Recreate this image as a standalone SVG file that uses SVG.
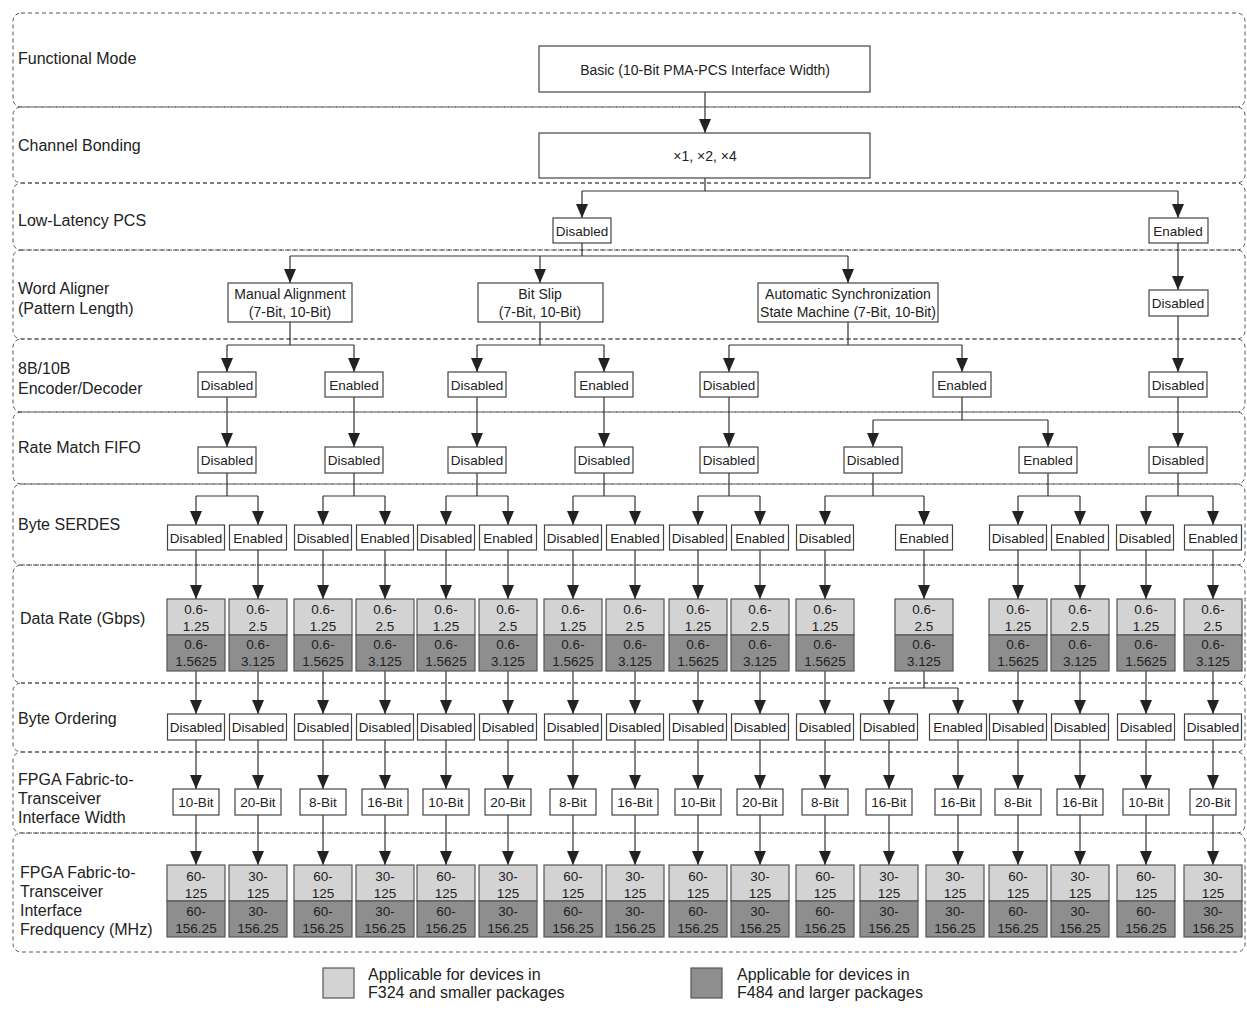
<svg xmlns="http://www.w3.org/2000/svg" width="1247" height="1013" viewBox="0 0 1247 1013">
<defs>
<style>
.row{fill:none;stroke:#555;stroke-width:1;stroke-dasharray:4 3}
.lbl{font-family:"Liberation Sans",Arial,sans-serif;font-size:16px;fill:#222;dominant-baseline:central}
.box{fill:#fff;stroke:#444;stroke-width:1.2}
.lt{fill:#d3d3d3;stroke:#555;stroke-width:1.2}
.dk{fill:#8e8e8e;stroke:#555;stroke-width:1.2}
.t{font-family:"Liberation Sans",Arial,sans-serif;font-size:13.5px;fill:#222;text-anchor:middle;dominant-baseline:central}
.s{font-size:14px}
.c{fill:none;stroke:#333;stroke-width:1.2}
.a{marker-end:url(#ah)}
</style>
<marker id="ah" markerUnits="userSpaceOnUse" viewBox="0 0 14 12" refX="14" refY="6" markerWidth="14" markerHeight="12" orient="auto"><path d="M0,0L14,6L0,12z" fill="#222"/></marker>
</defs>
<rect width="1247" height="1013" fill="#fff"/>

<g id="rows">
<g id="row-functional"><rect class="row" x="13" y="13" width="1232" height="94" rx="8"/><text class="lbl" x="18" y="58">Functional Mode</text></g>
<g id="row-bonding"><rect class="row" x="13" y="107" width="1232" height="76" rx="8"/><text class="lbl" x="18" y="145">Channel Bonding</text></g>
<g id="row-llpcs"><rect class="row" x="13" y="183" width="1232" height="67" rx="8"/><text class="lbl" x="18" y="220">Low-Latency PCS</text></g>
<g id="row-wa"><rect class="row" x="13" y="250" width="1232" height="89" rx="8"/><text class="lbl" x="18" y="288">Word Aligner</text><text class="lbl" x="18" y="308">(Pattern Length)</text></g>
<g id="row-8b10b"><rect class="row" x="13" y="339" width="1232" height="73" rx="8"/><text class="lbl" x="18" y="368">8B/10B</text><text class="lbl" x="18" y="388">Encoder/Decoder</text></g>
<g id="row-rm"><rect class="row" x="13" y="412" width="1232" height="72" rx="8"/><text class="lbl" x="18" y="447">Rate Match FIFO</text></g>
<g id="row-serdes"><rect class="row" x="13" y="484" width="1232" height="81" rx="8"/><text class="lbl" x="18" y="524">Byte SERDES</text></g>
<g id="row-dr"><rect class="row" x="13" y="565" width="1232" height="118" rx="8"/><text class="lbl" x="20" y="618">Data Rate (Gbps)</text></g>
<g id="row-bo"><rect class="row" x="13" y="683" width="1232" height="69" rx="8"/><text class="lbl" x="18" y="718">Byte Ordering</text></g>
<g id="row-width"><rect class="row" x="13" y="752" width="1232" height="81" rx="8"/><text class="lbl" x="18" y="779">FPGA Fabric-to-</text><text class="lbl" x="18" y="798">Transceiver</text><text class="lbl" x="18" y="817">Interface Width</text></g>
<g id="row-freq"><rect class="row" x="13" y="833" width="1232" height="119" rx="8"/><text class="lbl" x="20" y="872">FPGA Fabric-to-</text><text class="lbl" x="20" y="891">Transceiver</text><text class="lbl" x="20" y="910">Interface</text><text class="lbl" x="20" y="929">Fredquency (MHz)</text></g>
</g>

<g id="connectors">
<path class="c a" d="M705,92V133"/>
<path class="c" d="M705,178V191M582,191H1178"/>
<path class="c a" d="M582,191V218"/><path class="c a" d="M1178,191V218"/>
<path class="c" d="M582,243V256M290,256H848"/>
<path class="c a" d="M290,256V283"/><path class="c a" d="M540,256V283"/><path class="c a" d="M848,256V283"/>
<path class="c a" d="M1178,243V290"/>
<path class="c" d="M290,322V345M227,345H354M540,322V345M477,345H604M848,322V345M729,345H962"/>
<path class="c a" d="M227,345V372"/><path class="c a" d="M354,345V372"/><path class="c a" d="M477,345V372"/><path class="c a" d="M604,345V372"/><path class="c a" d="M729,345V372"/><path class="c a" d="M962,345V372"/>
<path class="c a" d="M1178,316V372"/>
<path class="c a" d="M227,397V447"/><path class="c a" d="M354,397V447"/><path class="c a" d="M477,397V447"/><path class="c a" d="M604,397V447"/><path class="c a" d="M729,397V447"/><path class="c a" d="M1178,397V447"/>
<path class="c" d="M962,397V420M873,420H1048"/>
<path class="c a" d="M873,420V447"/><path class="c a" d="M1048,420V447"/>
<path class="c" d="M227,473V496M196,496H258M354,473V496M323,496H385M477,473V496M446,496H508M604,473V496M573,496H635M729,473V496M698,496H760M873,473V496M825,496H924M1048,473V496M1018,496H1080M1178,473V496M1146,496H1213"/>
<path class="c a" d="M196,496V525"/><path class="c a" d="M258,496V525"/><path class="c a" d="M323,496V525"/><path class="c a" d="M385,496V525"/><path class="c a" d="M446,496V525"/><path class="c a" d="M508,496V525"/><path class="c a" d="M573,496V525"/><path class="c a" d="M635,496V525"/><path class="c a" d="M698,496V525"/><path class="c a" d="M760,496V525"/><path class="c a" d="M825,496V525"/><path class="c a" d="M924,496V525"/><path class="c a" d="M1018,496V525"/><path class="c a" d="M1080,496V525"/><path class="c a" d="M1146,496V525"/><path class="c a" d="M1213,496V525"/>
<path class="c a" d="M196,550V599"/><path class="c a" d="M258,550V599"/><path class="c a" d="M323,550V599"/><path class="c a" d="M385,550V599"/><path class="c a" d="M446,550V599"/><path class="c a" d="M508,550V599"/><path class="c a" d="M573,550V599"/><path class="c a" d="M635,550V599"/><path class="c a" d="M698,550V599"/><path class="c a" d="M760,550V599"/><path class="c a" d="M825,550V599"/><path class="c a" d="M924,550V599"/><path class="c a" d="M1018,550V599"/><path class="c a" d="M1080,550V599"/><path class="c a" d="M1146,550V599"/><path class="c a" d="M1213,550V599"/>
<path class="c a" d="M196,671V714"/><path class="c a" d="M258,671V714"/><path class="c a" d="M323,671V714"/><path class="c a" d="M385,671V714"/><path class="c a" d="M446,671V714"/><path class="c a" d="M508,671V714"/><path class="c a" d="M573,671V714"/><path class="c a" d="M635,671V714"/><path class="c a" d="M698,671V714"/><path class="c a" d="M760,671V714"/><path class="c a" d="M825,671V714"/><path class="c a" d="M1018,671V714"/><path class="c a" d="M1080,671V714"/><path class="c a" d="M1146,671V714"/><path class="c a" d="M1213,671V714"/>
<path class="c" d="M924,671V688M889,688H958"/>
<path class="c a" d="M889,688V714"/><path class="c a" d="M958,688V714"/>
<path class="c a" d="M196,740V789"/><path class="c a" d="M258,740V789"/><path class="c a" d="M323,740V789"/><path class="c a" d="M385,740V789"/><path class="c a" d="M446,740V789"/><path class="c a" d="M508,740V789"/><path class="c a" d="M573,740V789"/><path class="c a" d="M635,740V789"/><path class="c a" d="M698,740V789"/><path class="c a" d="M760,740V789"/><path class="c a" d="M825,740V789"/><path class="c a" d="M889,740V789"/><path class="c a" d="M958,740V789"/><path class="c a" d="M1018,740V789"/><path class="c a" d="M1080,740V789"/><path class="c a" d="M1146,740V789"/><path class="c a" d="M1213,740V789"/>
<path class="c a" d="M196,815V865"/><path class="c a" d="M258,815V865"/><path class="c a" d="M323,815V865"/><path class="c a" d="M385,815V865"/><path class="c a" d="M446,815V865"/><path class="c a" d="M508,815V865"/><path class="c a" d="M573,815V865"/><path class="c a" d="M635,815V865"/><path class="c a" d="M698,815V865"/><path class="c a" d="M760,815V865"/><path class="c a" d="M825,815V865"/><path class="c a" d="M889,815V865"/><path class="c a" d="M958,815V865"/><path class="c a" d="M1018,815V865"/><path class="c a" d="M1080,815V865"/><path class="c a" d="M1146,815V865"/><path class="c a" d="M1213,815V865"/>
</g>

<g id="n-functional"><rect class="box" x="539" y="46" width="331" height="46"/><text class="t s" x="705" y="70">Basic (10-Bit PMA-PCS Interface Width)</text></g>
<g id="n-bonding"><rect class="box" x="539" y="133" width="331" height="45"/><text class="t s" x="705" y="156">×1, ×2, ×4</text></g>
<g id="n-ll-dis"><rect class="box" x="553" y="218" width="58" height="25"/><text class="t" x="582" y="231">Disabled</text></g>
<g id="n-ll-en"><rect class="box" x="1149" y="218" width="59" height="25"/><text class="t" x="1178" y="231">Enabled</text></g>
<g id="n-wa-manual"><rect class="box" x="228" y="283" width="124" height="39"/><text class="t s" x="290" y="294">Manual Alignment</text><text class="t s" x="290" y="312">(7-Bit, 10-Bit)</text></g>
<g id="n-wa-bitslip"><rect class="box" x="478" y="283" width="125" height="39"/><text class="t s" x="540" y="294">Bit Slip</text><text class="t s" x="540" y="312">(7-Bit, 10-Bit)</text></g>
<g id="n-wa-auto"><rect class="box" x="758" y="283" width="180" height="39"/><text class="t s" x="848" y="294">Automatic Synchronization</text><text class="t s" x="848" y="312">State Machine (7-Bit, 10-Bit)</text></g>
<g id="n-wa-dis"><rect class="box" x="1149" y="290" width="59" height="26"/><text class="t" x="1178" y="303">Disabled</text></g>

<g id="n-8b-1"><rect class="box" x="198" y="372" width="58" height="25"/><text class="t" x="227" y="385">Disabled</text></g>
<g id="n-8b-2"><rect class="box" x="325" y="372" width="58" height="25"/><text class="t" x="354" y="385">Enabled</text></g>
<g id="n-8b-3"><rect class="box" x="448" y="372" width="58" height="25"/><text class="t" x="477" y="385">Disabled</text></g>
<g id="n-8b-4"><rect class="box" x="575" y="372" width="58" height="25"/><text class="t" x="604" y="385">Enabled</text></g>
<g id="n-8b-5"><rect class="box" x="700" y="372" width="58" height="25"/><text class="t" x="729" y="385">Disabled</text></g>
<g id="n-8b-6"><rect class="box" x="933" y="372" width="58" height="25"/><text class="t" x="962" y="385">Enabled</text></g>
<g id="n-8b-7"><rect class="box" x="1149" y="372" width="58" height="25"/><text class="t" x="1178" y="385">Disabled</text></g>

<g id="n-rm-1"><rect class="box" x="198" y="447" width="58" height="26"/><text class="t" x="227" y="460">Disabled</text></g>
<g id="n-rm-2"><rect class="box" x="325" y="447" width="58" height="26"/><text class="t" x="354" y="460">Disabled</text></g>
<g id="n-rm-3"><rect class="box" x="448" y="447" width="58" height="26"/><text class="t" x="477" y="460">Disabled</text></g>
<g id="n-rm-4"><rect class="box" x="575" y="447" width="58" height="26"/><text class="t" x="604" y="460">Disabled</text></g>
<g id="n-rm-5"><rect class="box" x="700" y="447" width="58" height="26"/><text class="t" x="729" y="460">Disabled</text></g>
<g id="n-rm-6"><rect class="box" x="844" y="447" width="58" height="26"/><text class="t" x="873" y="460">Disabled</text></g>
<g id="n-rm-7"><rect class="box" x="1019" y="447" width="58" height="26"/><text class="t" x="1048" y="460">Enabled</text></g>
<g id="n-rm-8"><rect class="box" x="1149" y="447" width="58" height="26"/><text class="t" x="1178" y="460">Disabled</text></g>

<g id="n-sd-1"><rect class="box" x="167.5" y="525" width="57" height="25"/><text class="t" x="196" y="538">Disabled</text></g>
<g id="n-sd-2"><rect class="box" x="229.5" y="525" width="57" height="25"/><text class="t" x="258" y="538">Enabled</text></g>
<g id="n-sd-3"><rect class="box" x="294.5" y="525" width="57" height="25"/><text class="t" x="323" y="538">Disabled</text></g>
<g id="n-sd-4"><rect class="box" x="356.5" y="525" width="57" height="25"/><text class="t" x="385" y="538">Enabled</text></g>
<g id="n-sd-5"><rect class="box" x="417.5" y="525" width="57" height="25"/><text class="t" x="446" y="538">Disabled</text></g>
<g id="n-sd-6"><rect class="box" x="479.5" y="525" width="57" height="25"/><text class="t" x="508" y="538">Enabled</text></g>
<g id="n-sd-7"><rect class="box" x="544.5" y="525" width="57" height="25"/><text class="t" x="573" y="538">Disabled</text></g>
<g id="n-sd-8"><rect class="box" x="606.5" y="525" width="57" height="25"/><text class="t" x="635" y="538">Enabled</text></g>
<g id="n-sd-9"><rect class="box" x="669.5" y="525" width="57" height="25"/><text class="t" x="698" y="538">Disabled</text></g>
<g id="n-sd-10"><rect class="box" x="731.5" y="525" width="57" height="25"/><text class="t" x="760" y="538">Enabled</text></g>
<g id="n-sd-11"><rect class="box" x="796.5" y="525" width="57" height="25"/><text class="t" x="825" y="538">Disabled</text></g>
<g id="n-sd-12"><rect class="box" x="895.5" y="525" width="57" height="25"/><text class="t" x="924" y="538">Enabled</text></g>
<g id="n-sd-13"><rect class="box" x="989.5" y="525" width="57" height="25"/><text class="t" x="1018" y="538">Disabled</text></g>
<g id="n-sd-14"><rect class="box" x="1051.5" y="525" width="57" height="25"/><text class="t" x="1080" y="538">Enabled</text></g>
<g id="n-sd-15"><rect class="box" x="1116.5" y="525" width="57" height="25"/><text class="t" x="1145" y="538">Disabled</text></g>
<g id="n-sd-16"><rect class="box" x="1184.5" y="525" width="57" height="25"/><text class="t" x="1213" y="538">Enabled</text></g>

<g id="n-dr-1"><rect class="lt" x="167" y="599" width="58" height="36"/><rect class="dk" x="167" y="635" width="58" height="36"/><text class="t" x="196" y="609">0.6-</text><text class="t" x="196" y="626">1.25</text><text class="t" x="196" y="644">0.6-</text><text class="t" x="196" y="661">1.5625</text></g>
<g id="n-dr-2"><rect class="lt" x="229" y="599" width="58" height="36"/><rect class="dk" x="229" y="635" width="58" height="36"/><text class="t" x="258" y="609">0.6-</text><text class="t" x="258" y="626">2.5</text><text class="t" x="258" y="644">0.6-</text><text class="t" x="258" y="661">3.125</text></g>
<g id="n-dr-3"><rect class="lt" x="294" y="599" width="58" height="36"/><rect class="dk" x="294" y="635" width="58" height="36"/><text class="t" x="323" y="609">0.6-</text><text class="t" x="323" y="626">1.25</text><text class="t" x="323" y="644">0.6-</text><text class="t" x="323" y="661">1.5625</text></g>
<g id="n-dr-4"><rect class="lt" x="356" y="599" width="58" height="36"/><rect class="dk" x="356" y="635" width="58" height="36"/><text class="t" x="385" y="609">0.6-</text><text class="t" x="385" y="626">2.5</text><text class="t" x="385" y="644">0.6-</text><text class="t" x="385" y="661">3.125</text></g>
<g id="n-dr-5"><rect class="lt" x="417" y="599" width="58" height="36"/><rect class="dk" x="417" y="635" width="58" height="36"/><text class="t" x="446" y="609">0.6-</text><text class="t" x="446" y="626">1.25</text><text class="t" x="446" y="644">0.6-</text><text class="t" x="446" y="661">1.5625</text></g>
<g id="n-dr-6"><rect class="lt" x="479" y="599" width="58" height="36"/><rect class="dk" x="479" y="635" width="58" height="36"/><text class="t" x="508" y="609">0.6-</text><text class="t" x="508" y="626">2.5</text><text class="t" x="508" y="644">0.6-</text><text class="t" x="508" y="661">3.125</text></g>
<g id="n-dr-7"><rect class="lt" x="544" y="599" width="58" height="36"/><rect class="dk" x="544" y="635" width="58" height="36"/><text class="t" x="573" y="609">0.6-</text><text class="t" x="573" y="626">1.25</text><text class="t" x="573" y="644">0.6-</text><text class="t" x="573" y="661">1.5625</text></g>
<g id="n-dr-8"><rect class="lt" x="606" y="599" width="58" height="36"/><rect class="dk" x="606" y="635" width="58" height="36"/><text class="t" x="635" y="609">0.6-</text><text class="t" x="635" y="626">2.5</text><text class="t" x="635" y="644">0.6-</text><text class="t" x="635" y="661">3.125</text></g>
<g id="n-dr-9"><rect class="lt" x="669" y="599" width="58" height="36"/><rect class="dk" x="669" y="635" width="58" height="36"/><text class="t" x="698" y="609">0.6-</text><text class="t" x="698" y="626">1.25</text><text class="t" x="698" y="644">0.6-</text><text class="t" x="698" y="661">1.5625</text></g>
<g id="n-dr-10"><rect class="lt" x="731" y="599" width="58" height="36"/><rect class="dk" x="731" y="635" width="58" height="36"/><text class="t" x="760" y="609">0.6-</text><text class="t" x="760" y="626">2.5</text><text class="t" x="760" y="644">0.6-</text><text class="t" x="760" y="661">3.125</text></g>
<g id="n-dr-11"><rect class="lt" x="796" y="599" width="58" height="36"/><rect class="dk" x="796" y="635" width="58" height="36"/><text class="t" x="825" y="609">0.6-</text><text class="t" x="825" y="626">1.25</text><text class="t" x="825" y="644">0.6-</text><text class="t" x="825" y="661">1.5625</text></g>
<g id="n-dr-12"><rect class="lt" x="895" y="599" width="58" height="36"/><rect class="dk" x="895" y="635" width="58" height="36"/><text class="t" x="924" y="609">0.6-</text><text class="t" x="924" y="626">2.5</text><text class="t" x="924" y="644">0.6-</text><text class="t" x="924" y="661">3.125</text></g>
<g id="n-dr-13"><rect class="lt" x="989" y="599" width="58" height="36"/><rect class="dk" x="989" y="635" width="58" height="36"/><text class="t" x="1018" y="609">0.6-</text><text class="t" x="1018" y="626">1.25</text><text class="t" x="1018" y="644">0.6-</text><text class="t" x="1018" y="661">1.5625</text></g>
<g id="n-dr-14"><rect class="lt" x="1051" y="599" width="58" height="36"/><rect class="dk" x="1051" y="635" width="58" height="36"/><text class="t" x="1080" y="609">0.6-</text><text class="t" x="1080" y="626">2.5</text><text class="t" x="1080" y="644">0.6-</text><text class="t" x="1080" y="661">3.125</text></g>
<g id="n-dr-15"><rect class="lt" x="1117" y="599" width="58" height="36"/><rect class="dk" x="1117" y="635" width="58" height="36"/><text class="t" x="1146" y="609">0.6-</text><text class="t" x="1146" y="626">1.25</text><text class="t" x="1146" y="644">0.6-</text><text class="t" x="1146" y="661">1.5625</text></g>
<g id="n-dr-16"><rect class="lt" x="1184" y="599" width="58" height="36"/><rect class="dk" x="1184" y="635" width="58" height="36"/><text class="t" x="1213" y="609">0.6-</text><text class="t" x="1213" y="626">2.5</text><text class="t" x="1213" y="644">0.6-</text><text class="t" x="1213" y="661">3.125</text></g>

<g id="n-bo-1"><rect class="box" x="167.5" y="714" width="57" height="26"/><text class="t" x="196" y="727">Disabled</text></g>
<g id="n-bo-2"><rect class="box" x="229.5" y="714" width="57" height="26"/><text class="t" x="258" y="727">Disabled</text></g>
<g id="n-bo-3"><rect class="box" x="294.5" y="714" width="57" height="26"/><text class="t" x="323" y="727">Disabled</text></g>
<g id="n-bo-4"><rect class="box" x="356.5" y="714" width="57" height="26"/><text class="t" x="385" y="727">Disabled</text></g>
<g id="n-bo-5"><rect class="box" x="417.5" y="714" width="57" height="26"/><text class="t" x="446" y="727">Disabled</text></g>
<g id="n-bo-6"><rect class="box" x="479.5" y="714" width="57" height="26"/><text class="t" x="508" y="727">Disabled</text></g>
<g id="n-bo-7"><rect class="box" x="544.5" y="714" width="57" height="26"/><text class="t" x="573" y="727">Disabled</text></g>
<g id="n-bo-8"><rect class="box" x="606.5" y="714" width="57" height="26"/><text class="t" x="635" y="727">Disabled</text></g>
<g id="n-bo-9"><rect class="box" x="669.5" y="714" width="57" height="26"/><text class="t" x="698" y="727">Disabled</text></g>
<g id="n-bo-10"><rect class="box" x="731.5" y="714" width="57" height="26"/><text class="t" x="760" y="727">Disabled</text></g>
<g id="n-bo-11"><rect class="box" x="796.5" y="714" width="57" height="26"/><text class="t" x="825" y="727">Disabled</text></g>
<g id="n-bo-12"><rect class="box" x="860.5" y="714" width="57" height="26"/><text class="t" x="889" y="727">Disabled</text></g>
<g id="n-bo-13"><rect class="box" x="929.5" y="714" width="57" height="26"/><text class="t" x="958" y="727">Enabled</text></g>
<g id="n-bo-14"><rect class="box" x="989.5" y="714" width="57" height="26"/><text class="t" x="1018" y="727">Disabled</text></g>
<g id="n-bo-15"><rect class="box" x="1051.5" y="714" width="57" height="26"/><text class="t" x="1080" y="727">Disabled</text></g>
<g id="n-bo-16"><rect class="box" x="1117.5" y="714" width="57" height="26"/><text class="t" x="1146" y="727">Disabled</text></g>
<g id="n-bo-17"><rect class="box" x="1184.5" y="714" width="57" height="26"/><text class="t" x="1213" y="727">Disabled</text></g>

<g id="n-w-1"><rect class="box" x="173" y="789" width="46" height="26"/><text class="t" x="196" y="802">10-Bit</text></g>
<g id="n-w-2"><rect class="box" x="235" y="789" width="46" height="26"/><text class="t" x="258" y="802">20-Bit</text></g>
<g id="n-w-3"><rect class="box" x="300" y="789" width="46" height="26"/><text class="t" x="323" y="802">8-Bit</text></g>
<g id="n-w-4"><rect class="box" x="362" y="789" width="46" height="26"/><text class="t" x="385" y="802">16-Bit</text></g>
<g id="n-w-5"><rect class="box" x="423" y="789" width="46" height="26"/><text class="t" x="446" y="802">10-Bit</text></g>
<g id="n-w-6"><rect class="box" x="485" y="789" width="46" height="26"/><text class="t" x="508" y="802">20-Bit</text></g>
<g id="n-w-7"><rect class="box" x="550" y="789" width="46" height="26"/><text class="t" x="573" y="802">8-Bit</text></g>
<g id="n-w-8"><rect class="box" x="612" y="789" width="46" height="26"/><text class="t" x="635" y="802">16-Bit</text></g>
<g id="n-w-9"><rect class="box" x="675" y="789" width="46" height="26"/><text class="t" x="698" y="802">10-Bit</text></g>
<g id="n-w-10"><rect class="box" x="737" y="789" width="46" height="26"/><text class="t" x="760" y="802">20-Bit</text></g>
<g id="n-w-11"><rect class="box" x="802" y="789" width="46" height="26"/><text class="t" x="825" y="802">8-Bit</text></g>
<g id="n-w-12"><rect class="box" x="866" y="789" width="46" height="26"/><text class="t" x="889" y="802">16-Bit</text></g>
<g id="n-w-13"><rect class="box" x="935" y="789" width="46" height="26"/><text class="t" x="958" y="802">16-Bit</text></g>
<g id="n-w-14"><rect class="box" x="995" y="789" width="46" height="26"/><text class="t" x="1018" y="802">8-Bit</text></g>
<g id="n-w-15"><rect class="box" x="1057" y="789" width="46" height="26"/><text class="t" x="1080" y="802">16-Bit</text></g>
<g id="n-w-16"><rect class="box" x="1123" y="789" width="46" height="26"/><text class="t" x="1146" y="802">10-Bit</text></g>
<g id="n-w-17"><rect class="box" x="1190" y="789" width="46" height="26"/><text class="t" x="1213" y="802">20-Bit</text></g>

<g id="n-f-1"><rect class="lt" x="167" y="865" width="58" height="36"/><rect class="dk" x="167" y="901" width="58" height="36"/><text class="t" x="196" y="876">60-</text><text class="t" x="196" y="893">125</text><text class="t" x="196" y="911">60-</text><text class="t" x="196" y="928">156.25</text></g>
<g id="n-f-2"><rect class="lt" x="229" y="865" width="58" height="36"/><rect class="dk" x="229" y="901" width="58" height="36"/><text class="t" x="258" y="876">30-</text><text class="t" x="258" y="893">125</text><text class="t" x="258" y="911">30-</text><text class="t" x="258" y="928">156.25</text></g>
<g id="n-f-3"><rect class="lt" x="294" y="865" width="58" height="36"/><rect class="dk" x="294" y="901" width="58" height="36"/><text class="t" x="323" y="876">60-</text><text class="t" x="323" y="893">125</text><text class="t" x="323" y="911">60-</text><text class="t" x="323" y="928">156.25</text></g>
<g id="n-f-4"><rect class="lt" x="356" y="865" width="58" height="36"/><rect class="dk" x="356" y="901" width="58" height="36"/><text class="t" x="385" y="876">30-</text><text class="t" x="385" y="893">125</text><text class="t" x="385" y="911">30-</text><text class="t" x="385" y="928">156.25</text></g>
<g id="n-f-5"><rect class="lt" x="417" y="865" width="58" height="36"/><rect class="dk" x="417" y="901" width="58" height="36"/><text class="t" x="446" y="876">60-</text><text class="t" x="446" y="893">125</text><text class="t" x="446" y="911">60-</text><text class="t" x="446" y="928">156.25</text></g>
<g id="n-f-6"><rect class="lt" x="479" y="865" width="58" height="36"/><rect class="dk" x="479" y="901" width="58" height="36"/><text class="t" x="508" y="876">30-</text><text class="t" x="508" y="893">125</text><text class="t" x="508" y="911">30-</text><text class="t" x="508" y="928">156.25</text></g>
<g id="n-f-7"><rect class="lt" x="544" y="865" width="58" height="36"/><rect class="dk" x="544" y="901" width="58" height="36"/><text class="t" x="573" y="876">60-</text><text class="t" x="573" y="893">125</text><text class="t" x="573" y="911">60-</text><text class="t" x="573" y="928">156.25</text></g>
<g id="n-f-8"><rect class="lt" x="606" y="865" width="58" height="36"/><rect class="dk" x="606" y="901" width="58" height="36"/><text class="t" x="635" y="876">30-</text><text class="t" x="635" y="893">125</text><text class="t" x="635" y="911">30-</text><text class="t" x="635" y="928">156.25</text></g>
<g id="n-f-9"><rect class="lt" x="669" y="865" width="58" height="36"/><rect class="dk" x="669" y="901" width="58" height="36"/><text class="t" x="698" y="876">60-</text><text class="t" x="698" y="893">125</text><text class="t" x="698" y="911">60-</text><text class="t" x="698" y="928">156.25</text></g>
<g id="n-f-10"><rect class="lt" x="731" y="865" width="58" height="36"/><rect class="dk" x="731" y="901" width="58" height="36"/><text class="t" x="760" y="876">30-</text><text class="t" x="760" y="893">125</text><text class="t" x="760" y="911">30-</text><text class="t" x="760" y="928">156.25</text></g>
<g id="n-f-11"><rect class="lt" x="796" y="865" width="58" height="36"/><rect class="dk" x="796" y="901" width="58" height="36"/><text class="t" x="825" y="876">60-</text><text class="t" x="825" y="893">125</text><text class="t" x="825" y="911">60-</text><text class="t" x="825" y="928">156.25</text></g>
<g id="n-f-12"><rect class="lt" x="860" y="865" width="58" height="36"/><rect class="dk" x="860" y="901" width="58" height="36"/><text class="t" x="889" y="876">30-</text><text class="t" x="889" y="893">125</text><text class="t" x="889" y="911">30-</text><text class="t" x="889" y="928">156.25</text></g>
<g id="n-f-13"><rect class="lt" x="926" y="865" width="58" height="36"/><rect class="dk" x="926" y="901" width="58" height="36"/><text class="t" x="955" y="876">30-</text><text class="t" x="955" y="893">125</text><text class="t" x="955" y="911">30-</text><text class="t" x="955" y="928">156.25</text></g>
<g id="n-f-14"><rect class="lt" x="989" y="865" width="58" height="36"/><rect class="dk" x="989" y="901" width="58" height="36"/><text class="t" x="1018" y="876">60-</text><text class="t" x="1018" y="893">125</text><text class="t" x="1018" y="911">60-</text><text class="t" x="1018" y="928">156.25</text></g>
<g id="n-f-15"><rect class="lt" x="1051" y="865" width="58" height="36"/><rect class="dk" x="1051" y="901" width="58" height="36"/><text class="t" x="1080" y="876">30-</text><text class="t" x="1080" y="893">125</text><text class="t" x="1080" y="911">30-</text><text class="t" x="1080" y="928">156.25</text></g>
<g id="n-f-16"><rect class="lt" x="1117" y="865" width="58" height="36"/><rect class="dk" x="1117" y="901" width="58" height="36"/><text class="t" x="1146" y="876">60-</text><text class="t" x="1146" y="893">125</text><text class="t" x="1146" y="911">60-</text><text class="t" x="1146" y="928">156.25</text></g>
<g id="n-f-17"><rect class="lt" x="1184" y="865" width="58" height="36"/><rect class="dk" x="1184" y="901" width="58" height="36"/><text class="t" x="1213" y="876">30-</text><text class="t" x="1213" y="893">125</text><text class="t" x="1213" y="911">30-</text><text class="t" x="1213" y="928">156.25</text></g>

<g id="legend">
<rect class="lt" x="323" y="968" width="31" height="30"/>
<text class="lbl" x="368" y="974">Applicable for devices in</text>
<text class="lbl" x="368" y="992">F324 and smaller packages</text>
<rect class="dk" x="691" y="968" width="31" height="30"/>
<text class="lbl" x="737" y="974">Applicable for devices in</text>
<text class="lbl" x="737" y="992">F484 and larger packages</text>
</g>
</svg>
